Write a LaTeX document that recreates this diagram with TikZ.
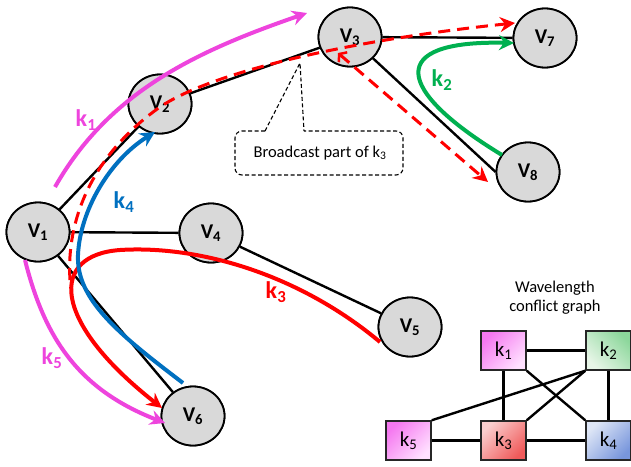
\documentclass[tikz,border=0pt]{standalone}
\usepackage{fontspec}
\setmainfont{Carlito}
\usetikzlibrary{arrows.meta,shapes.geometric}
\definecolor{mag}{RGB}{238,68,221}
\definecolor{grn}{RGB}{0,176,80}
\definecolor{blu}{RGB}{0,112,192}
\definecolor{nodegray}{RGB}{217,217,217}
\begin{document}
\begin{tikzpicture}[x=1pt,y=-1pt,
  vnode/.style={ellipse,draw=black,line width=1.8pt,fill=nodegray,minimum width=63pt,minimum height=59pt,inner sep=0pt,font=\fontsize{21}{21}\selectfont\bfseries},
  link/.style={line width=2.4pt},
  route/.style={line width=4pt},
  tip/.style={-{Stealth[length=15pt,width=15pt,inset=5pt]}},
  bcast/.style={red,line width=3pt,dash pattern=on 12pt off 7pt},
  kbox/.style={rectangle,draw=black!85,line width=1.5pt,minimum width=45pt,minimum height=39pt,inner sep=0pt,font=\fontsize{21}{21}\selectfont},
  klab/.style={font=\fontsize{24}{24}\selectfont\bfseries},
  cedge/.style={line width=2.4pt},
  callout/.style={line width=1.1pt,dash pattern=on 4pt off 2.5pt},
]
\useasboundingbox (0,0) rectangle (631,466);
\fill[white] (0,0) rectangle (631,466);

% network nodes
\node[vnode] (V1) at (38,232) {V\textsubscript{1}};
\node[vnode] (V2) at (160,104) {V\textsubscript{2}};
\node[vnode] (V3) at (350,37) {V\textsubscript{3}};
\node[vnode] (V4) at (211,233) {V\textsubscript{4}};
\node[vnode] (V5) at (410,327) {V\textsubscript{5}};
\node[vnode] (V6) at (193,416) {V\textsubscript{6}};
\node[vnode] (V7) at (545,38) {V\textsubscript{7}};
\node[vnode] (V8) at (528,172) {V\textsubscript{8}};

% links
\draw[link] (V1) -- (V2);
\draw[link] (V2) -- (V3);
\draw[link] (V3) -- (V7);
\draw[link] (V3) -- (V8.west);
\draw[link] (V1) -- (V4);
\draw[link] (V4) -- (V5);
\draw[link] (V1) -- (V6);
% redraw nodes on top of links
\node[vnode] at (V1) {V\textsubscript{1}};
\node[vnode] at (V2) {V\textsubscript{2}};
\node[vnode] at (V3) {V\textsubscript{3}};
\node[vnode] at (V4) {V\textsubscript{4}};
\node[vnode] at (V5) {V\textsubscript{5}};
\node[vnode] at (V6) {V\textsubscript{6}};
\node[vnode] at (V7) {V\textsubscript{7}};
\node[vnode] at (V8) {V\textsubscript{8}};

% route end points
\coordinate (k1s) at (55,187);
\coordinate (k1e) at (307,13);
\coordinate (k2s) at (502,155);
\coordinate (k2e) at (514,43);
\coordinate (k3s) at (380,342);
\coordinate (k3e) at (162,408);
\coordinate (k4s) at (183,383);
\coordinate (k4e) at (155,132);
\coordinate (k5s) at (25,260);
\coordinate (k5e) at (165,423);
\coordinate (b0) at (70,280);
\coordinate (b7) at (515,23);
\coordinate (b3) at (338,53);
\coordinate (b8) at (488,182);
\coordinate (ctip) at (300,63);

% broadcast (dashed) part of k3
\draw[bcast,tip] (b0) .. controls (66,220) and (92,155) .. (160,107)
   .. controls (212,72) and (350,40) .. (b7);
\draw[bcast,{Straight Barb[length=5pt,width=13pt,line width=2.5pt]}-{Stealth[length=15pt,width=15pt,inset=5pt]}] (b3) -- (b8);

% routes
\draw[route,mag,tip] (k1s) .. controls (110,90) and (200,50) .. (k1e);
\draw[route,grn,tip] (k2s) .. controls (395,90) and (385,40) .. (k2e);
\draw[route,red,tip] (k3s) .. controls (300,275) and (200,245) .. (120,250)
   .. controls (50,255) and (50,320) .. (k3e);
\draw[route,blu,tip] (k4s) .. controls (120,335) and (76,300) .. (78,255)
   .. controls (80,210) and (110,160) .. (k4e);
\draw[route,mag,tip] (k5s) .. controls (45,340) and (80,390) .. (k5e);

% route labels
\node[klab,text=mag] (l1) at (86,120) {k\textsubscript{1}};
\node[klab,text=grn] (l2) at (442,80) {k\textsubscript{2}};
\node[klab,text=red] (l3) at (276,292) {k\textsubscript{3}};
\node[klab,text=blu] (l4) at (124,202) {k\textsubscript{4}};
\node[klab,text=mag] (l5) at (52,358) {k\textsubscript{5}};

% callout
\node[font=\fontsize{16.5}{18}\selectfont] (bc) at (320,153) {Broadcast part of k\textsubscript{3}};
\draw[callout] (265,131) -- (ctip) -- (304,131);
\draw[callout,rounded corners=7pt] (265,131) -- (235,131) -- (235,175) -- (403,175) -- (403,131) -- (304,131);

% conflict graph
\node[align=center,font=\fontsize{16.5}{19}\selectfont] (wl) at (555,298) {Wavelength\\conflict graph};
\node[kbox,top color={rgb,255:red,245;green,120;blue,240},bottom color={rgb,255:red,255;green,225;blue,255},shading angle=45] (c1) at (503.5,350.5) {k\textsubscript{1}};
\node[kbox,top color={rgb,255:red,140;green,215;blue,155},bottom color={rgb,255:red,232;green,246;blue,232},shading angle=-45] (c2) at (608.5,350.5) {k\textsubscript{2}};
\node[kbox,top color={rgb,255:red,250;green,205;blue,205},bottom color={rgb,255:red,240;green,90;blue,90},shading angle=45] (c3) at (503.5,440.5) {k\textsubscript{3}};
\node[kbox,top color={rgb,255:red,222;green,230;blue,246},bottom color={rgb,255:red,120;green,150;blue,220},shading angle=45] (c4) at (608.5,440.5) {k\textsubscript{4}};
\node[kbox,top color={rgb,255:red,245;green,120;blue,240},bottom color={rgb,255:red,255;green,225;blue,255},shading angle=45] (c5) at (408.5,440.5) {k\textsubscript{5}};
\draw[cedge] (c1) -- (c2);
\draw[cedge] (c1) -- (c3);
\draw[cedge] (c1.south east) -- (c4.north west);
\draw[cedge] (c2.south west) -- (c3.north east);
\draw[cedge] (c2) -- (c4);
\draw[cedge] (c2.south west) -- (c5.north east);
\draw[cedge] (c5) -- (c3);
\draw[cedge] (c3) -- (c4);
\end{tikzpicture}
\end{document}
